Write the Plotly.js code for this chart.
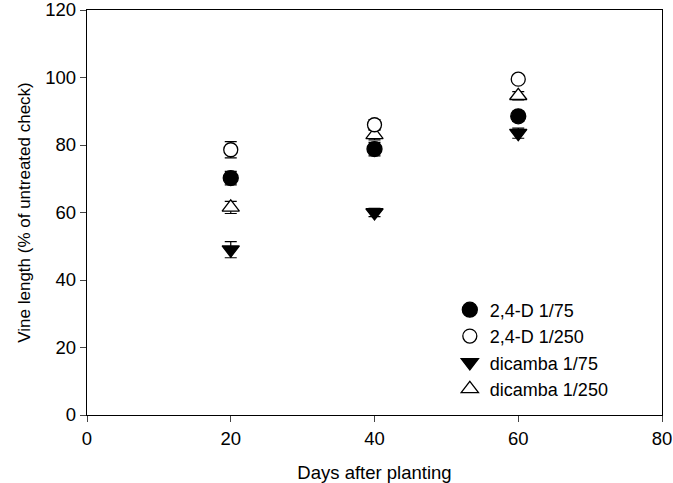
<!DOCTYPE html>
<html>
<head>
<meta charset="utf-8">
<script src="https://cdn.plot.ly/plotly-3.0.1.min.js"></script>
<style>html,body{margin:0;padding:0;background:#fff;}#chart{width:673px;height:483px;}</style>
</head>
<body>
<div id="chart"></div>
<script>
var days = [20, 40, 60];
var names = ["2,4-D 1/75", "2,4-D 1/250", "dicamba 1/75", "dicamba 1/250"];
var d75 = [70.2, 78.8, 88.5];
var d75Err = [2.0, 2.0, 1.5];
var d250 = [78.6, 86.0, 99.5];
var d250Err = [2.4, 1.5, 1.2];
var dic75 = [49.0, 60.0, 83.5];
var dic75Err = [2.4, 1.2, 1.5];
var dic250 = [61.5, 83.0, 94.6];
var dic250Err = [1.8, 1.5, 1.2];

function tr(name, y, err, symbol, fill, size) {
  return {
    type: 'scatter', mode: 'markers', name: name, x: days, y: y,
    error_y: {type: 'data', array: err, visible: true, color: '#000', thickness: 1.2, width: 6},
    marker: {symbol: symbol, size: size, color: fill, line: {color: '#000', width: 1.3}}
  };
}
var data = [
  tr(names[3], dic250, dic250Err, 'triangle-up', '#fff', 15),
  tr(names[2], dic75, dic75Err, 'triangle-down', '#000', 15),
  tr(names[1], d250, d250Err, 'circle', '#fff', 14),
  tr(names[0], d75, d75Err, 'circle', '#000', 15)
];
var fam = 'Liberation Sans, Arial, sans-serif';
var tickF = {family: fam, size: 18.5, color: '#000'};
var legF = {family: fam, size: 18, color: '#000'};
var xtF = {family: fam, size: 18.5, color: '#000'};
var ytF = {family: fam, size: 17, color: '#000'};
var layout = {
  width: 673, height: 483,
  margin: {l: 87, r: 11, t: 10, b: 68},
  paper_bgcolor: '#fff', plot_bgcolor: '#fff',
  font: tickF,
  showlegend: true,
  legend: {x: 0.631, y: 0.305, xanchor: 'left', yanchor: 'top', traceorder: 'reversed',
           bgcolor: 'rgba(0,0,0,0)', font: legF},
  xaxis: {range: [0, 80], tickvals: [0, 20, 40, 60, 80], ticks: 'outside', ticklen: 6,
          showline: true, linecolor: '#000', linewidth: 1.3, mirror: true, showgrid: false, zeroline: false,
          ticklabeloverflow: 'allow',
          tickfont: tickF, title: {text: 'Days after planting', font: xtF, standoff: 20}},
  yaxis: {range: [0, 120], tickvals: [0, 20, 40, 60, 80, 100, 120], ticks: 'outside', ticklen: 6,
          showline: true, linecolor: '#000', linewidth: 1.3, mirror: true, showgrid: false, zeroline: false,
          ticklabeloverflow: 'allow',
          tickfont: tickF, title: {text: 'Vine length (% of untreated check)', font: ytF, standoff: 10}}
};
Plotly.newPlot('chart', data, layout, {displayModeBar: false, staticPlot: true});
</script>
</body>
</html>
